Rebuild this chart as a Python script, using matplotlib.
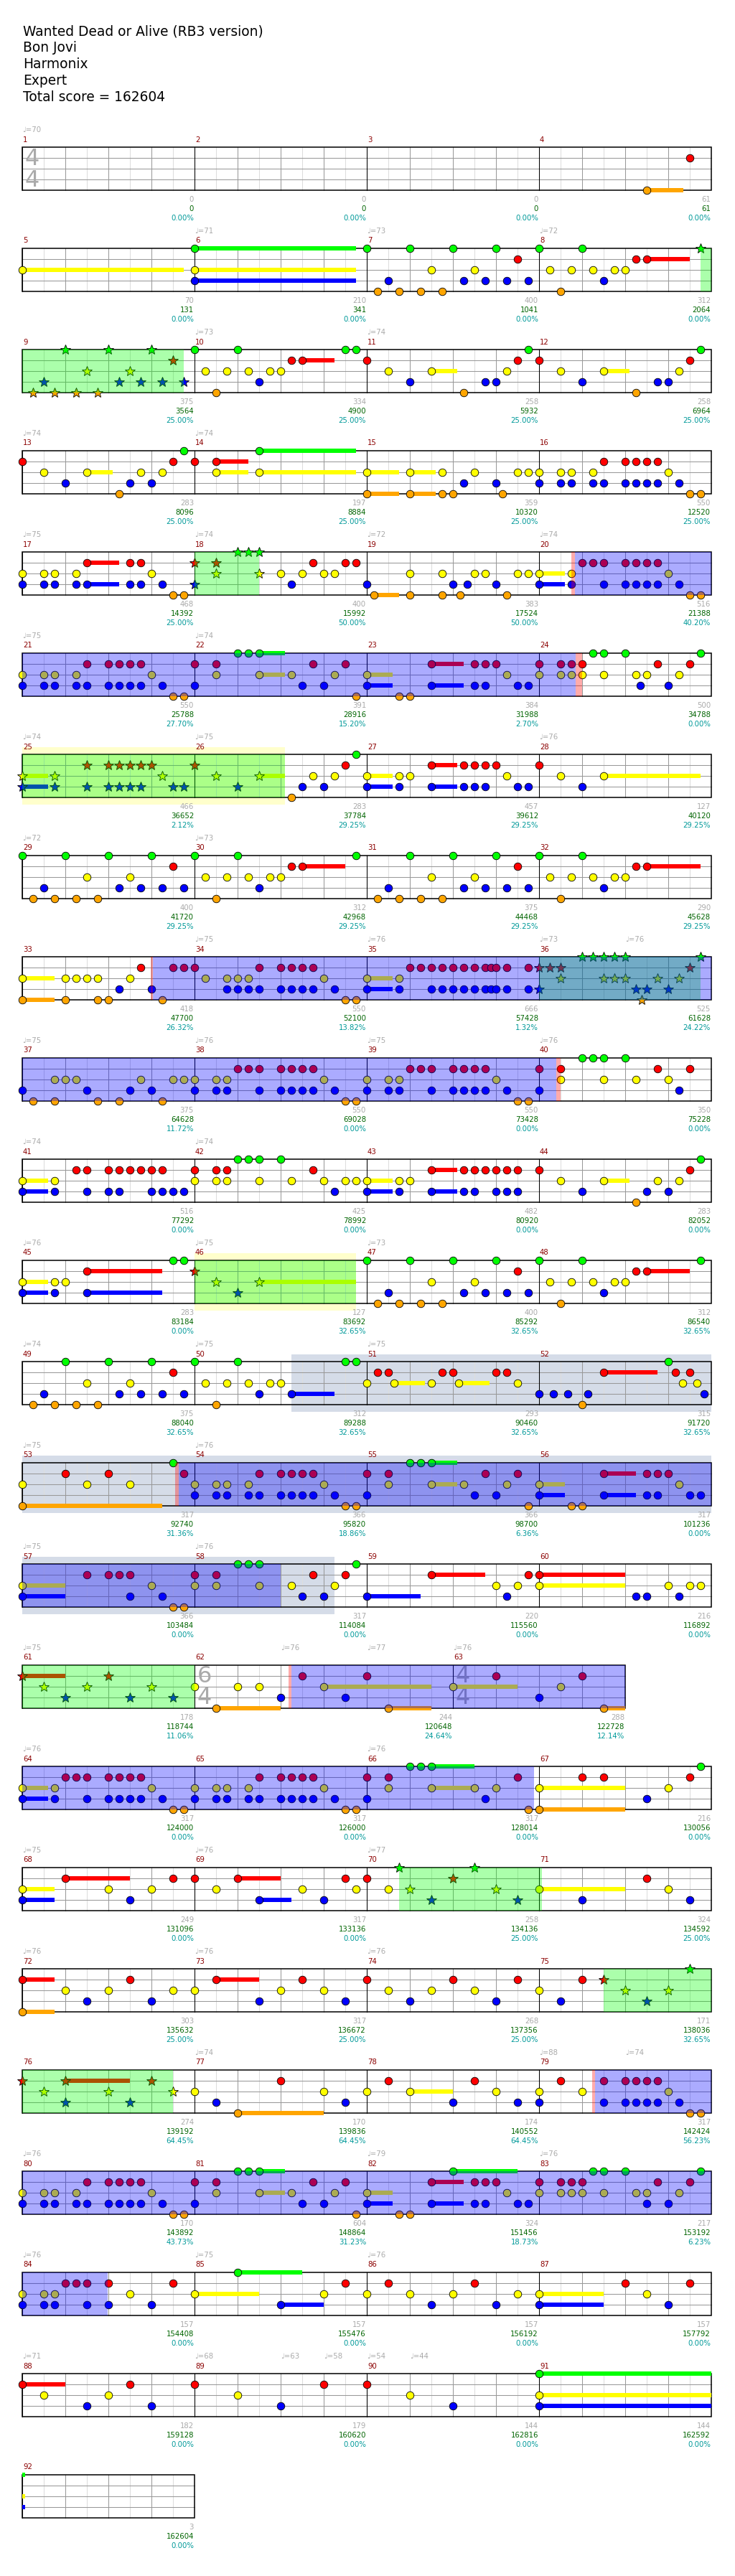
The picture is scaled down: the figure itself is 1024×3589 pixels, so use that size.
import re
import matplotlib
matplotlib.use("Agg")
import matplotlib.pyplot as plt
from matplotlib.patches import Rectangle

# ---- song info ----
TITLE_LINES = ["Wanted Dead or Alive (RB3 version)", "Bon Jovi", "Harmonix", "Expert",
               "Total score = 162604"]

# beats per measure (everything 4/4 except measure 62)
BEATS = [4] * 92
BEATS[61] = 6
TIME_SIGS = [(1, "4", "4"), (62, "6", "4"), (63, "4", "4")]

ROWS = [list(range(4 * k + 1, 4 * k + 5)) for k in range(15)] + [[61, 62, 63]] + \
       [list(range(64 + 4 * k, 68 + 4 * k)) for k in range(7)] + [[92]]

# notes per measure: frets + position (16ths) [: sustain in 16ths] [* = overdrive star]
P7 = "g0 o1 b2 o3 g4 o5 y6 o7 g8 b9 y10 b11 g12 b13 r14 b15"
P31 = "o1 b2 o3 g4 o5 y6 o7 g8 b9 y10 b11 g12 b13 r14 b15"
P8 = "g0 y1 o2 y3 g4 y5 b6 y7 y8 r9 r10:4 g15"
CH1 = "yb0 yb2 yb3 yb5 rb6 rb8 rb9 rb10 rb11 y12 b13 o14 o15"
CH2 = "rb0 ry2 g4 g5 gy6:2.4 y9 b10 r11 b12 y13 r14 o15"
CH3 = "yb0:2.4 o3 o4 rb6:3 rb10 rb11 r12 y13 b14 b15"
NOTES = [
    "", "", "", "o10:3.4 r14",
    "y0:15", "gyb0:15", P7, "g0 y1 o2 y3 g4 y5 b6 y7 y8 r9 r10:4 g15*",
    "o1* b2* o3* g4* o5* y6* o7* g8* b9* y10* b11* g12* b13* r14* b15*",
    "g0 y1 o2 y3 g4 y5 b6 y7 y8 r9 r10:3 g14 g15",
    "r0 y2 b4 y6:2.4 o9 b11 b12 y13 r14 g15",
    "r0 y2 b4 y6:2.4 o9 b11 b12 y13 r14 g15",
    "r0 y2 b4 y6:2.4 o9 b10 y11 b12 y13 r14 g15",
    "r0 ry2:3 gy6:9",
    "yo0:3 yo4:2.4 yo7 o8 b9 y10 b12 o12.6 y14 y15",
    "yb0 yb2 yb3 yb5 rb6 rb8 rb9 rb10 rb11 y12 b13 o14 o15",
    "yb0 yb2 yb3 yb5 rb6:3 rb10 rb11 y12 b13 o14 o15",
    "rb0* ry2* g4* g5* gy6* y8 b9 y10 r11 y12 y13 r14 r15",
    "b0 o0.67:2.33 yo4 yo7 b8 o8.67 b9.33 y10 y11 b12 o13 y14 y15",
    "yb0:2.4 yb3 r4 r5 rb6 rb8 rb9 rb10 rb11 y12 b13 o14 o15",
    CH1, CH2, CH3,
    "ry0 ry2 ry3 ry4 g5 gy6 g8 y9 b9.4 y10 r11 b12 y13 r14 g15",
    "yb0:2.4* yb3* rb6* rb8* rb9* rb10* rb11* r12* y13* b14* b15*",
    "r0* y2* b4* y6:2.4* o9 b10 y11 b12 y13 r14 g15",
    "yb0:2.4 yb3 y4 rb6:2.4 rb9 rb10 rb11 r12 y13 b14 b15",
    "r0 y2 b4 y6:9",
    P7, P8, P31, "g0 y1 o2 y3 g4 y5 b6 y7 y8 r9 r10:5",
    "yo0:3 yo4 y5 y6 yo7 o8 b9 y10 r11 b12 o13 r14 r15",
    "r0 y1 yb3 yb4 yb5 rb6 rb8 rb9 rb10 rb11 y12 b13 o14 o15",
    "yb0:2.4 yb3 r4 r5 rb6 rb7 rb8 rb9 rb10 rb11 rb11.5 rb12 rb13 rb15",
    "rb0* r1* ry2* g4* g5* gy6* gy7* gy8* b9* o9.5* b10* y11* b12* y13* r14* g15*",
    "b0 o1 yo3 y4 y5 b6 o7 o9 b10 y11 b12 o13 y14 y15",
    "yb0 yb2 yb3 r4 r5 rb6 rb8 rb9 rb10 rb11 y12 b13 o14 o15",
    "yb0 yb2 yb3 r4 r5 rb6 rb8 rb9 rb10 rb11 y12 b13 o14 o15",
    "rb0 ry2 g4 g5 gy6 g8 y9 r11 y12 b13 r14",
    "yb0:2.4 yb3 r5 rb6 rb8 rb9 r10 r11 rb12 rb13 b14 b15",
    "ry0 ry2 ry3 g4 g5 gy6 g8 y9 r11 y12 b13 y14 y15",
    "yb0:2.4 yb3 y4 rb6:2.4 rb9 rb10 r11 rb12 rb13 rb14",
    "r0 y2 b4 y6:2.4 o9 b10 y11 b12 y13 r14 g15",
    "yb0:2.4 yb3 y4 rb6:7 g14 g15",
    "r0* y2* b4* y6:9*",
    P7, P8, P31,
    "g0 y1 o2 y3 g4 y5 b6 y7 y8 b9:4 g14 g15",
    "y0 r1 r2 y2.5:2.9 y6 r7 r8 y8.5:2.9 r12 r13 y14",
    "b0 b1.33 b2.67 o4 b4.5 r6:5 g12 r12.67 y13.33 r14 y14.67 b15.33",
    # 53-60 (solo end / chorus)
    "y0 o0:13 r4 y6 r8 y10 g14 r15",
    CH1, CH2, CH3,
    "yb0:4 r6 r8 r9 rb10 y12 b13 o14 o15",
    "ry0 ry2 g4 g5 gy6 y9 b10 r11 b12 y13 r14 g15",
    "b0:5 r6:5 y12 b13 y14 r15",
    "ry0:8 b9 b10 y12 b13 y14 y15",
    # 61-63
    "r0:4* y2* b4* y6* r8* b10* y12* b14*",
    "y0 o2:6 y4 y6 b8 r10 y12:10 b14 r16 o18:4",
    "y0:6 r4 b8 y10 r12 o14:2",
    # 64-67
    "yb0:2.4 yb3 r4 r5 rb6 rb8 rb9 rb10 rb11 y12 b13 o14 o15",
    CH1, "rb0 ry2 g4 g5 gy6:4 y10 b11 y12 r14 o15",
    "yo0:8 r4 r6 b10 y12 r14 g15",
    # 68-71
    "y0:3 b0:3 r4:6 y8 b10 y12 r14",
    "r0 y2 r4:4 b6:3 y10 b12 r14 y15",
    "r0 y2 g3* y4* b6* r8* g10* y12* b14*",
    "y0:8 b4 r10 y12 b14",
    # 72-75
    "r0:3 o0:3 y4 b6 y8 r10 b12 y14",
    "y0 r2:4 b6 y8 r10 y12 b14",
    "r0 y2 b4 y6 r8 y10 b12 r14",
    "y0 b2 r4 r6* y8* b10* y12* g14*",
    # 76-79
    "r0* y2* b4* r4:6* y8* b10* r12* y14*",
    "y0 b2 o4:8 r8 y12 b14",
    "y0 r2 y4:4 b8 r10 y12 b14",
    "yb0 r2 y4 rb6 rb8 rb9 rb10 rb11 y12 b13 o14 o15",
    # 80-83 (chorus in overdrive)
    CH1, CH2, "yb0:2.4 o3 o4 rb6:3 g8:6 rb10 rb11 r12 y13 b14 b15",
    "ry0 ry2 ry3 ry4 g5 gy6 g8 y9 b10 y10 r11 b12 y13 r14 g15",
    # 84-87
    "yb0 yb2 yb3 r4 r5 rb6 rb8 y10 b12 r14",
    "y0:6 g4:6 b8:4 y12 r14",
    "y0 r2 y4 b6 y8 r10 b12 y14",
    "y0:6 b0:6 r8 y10 b12 r14",
    # 88-91 (ritardando)
    "r0:4 y2 b6 y8 r10 b12",
    "r0 y4 b8 r12",
    "r0 y4 b8",
    "gyb0:16.3",
    "",
]

MEAS_SCORE = [0, 0, 0, 61, 70, 210, 400, 312, 375, 334, 258, 258, 283, 197, 359, 550,
              468, 400, 383, 516, 550, 391, 384, 500, 466, 283, 457, 127, 400, 312, 375, 290,
              418, 550, 666, 525, 375, 550, 550, 350, 516, 425, 482, 283, 283, 127, 400, 312,
              375, 312, 293, 315, 317, 366, 366, 317, 366, 317, 220, 216, 178, 244, 288,
              317, 317, 317, 216, 249, 317, 258, 324, 303, 317, 268, 171, 274, 170, 174, 317,
              170, 604, 324, 217, 157, 157, 157, 157, 182, 179, 144, 144, 3]
TOTAL_SCORE = [0, 0, 0, 61, 131, 341, 1041, 2064, 3564, 4900, 5932, 6964, 8096, 8884, 10320,
               12520, 14392, 15992, 17524, 21388, 25788, 28916, 31988, 34788, 36652, 37784,
               39612, 40120, 41720, 42968, 44468, 45628, 47700, 52100, 57428, 61628, 64628,
               69028, 73428, 75228, 77292, 78992, 80920, 82052, 83184, 83692, 85292, 86540,
               88040, 89288, 90460, 91720, 92740, 95820, 98700, 101236, 103484, 114084,
               115560, 116892, 118744, 120648, 122728, 124000, 126000, 128014, 130056,
               131096, 133136, 134136, 134592, 135632, 136672, 137356, 138036, 139192,
               139836, 140552, 142424, 143892, 148864, 151456, 153192, 154408, 155476,
               156192, 157792, 159128, 160620, 162816, 162592, 162604]
PERCENT = ["0.00"] * 8 + ["25.00"] * 9 + ["50.00", "50.00", "40.20", "27.70", "15.20", "2.70",
           "0.00", "2.12"] + ["29.25"] * 7 + ["26.32", "13.82", "1.32", "24.22", "11.72"] + \
          ["0.00"] * 8 + ["32.65"] * 7 + ["31.36", "18.86", "6.36", "0.00", "0.00", "0.00",
           "0.00", "0.00", "11.06", "24.64", "12.14", "0.00", "0.00", "0.00", "0.00", "0.00",
           "0.00", "25.00", "25.00", "25.00", "25.00", "25.00", "32.65", "64.45", "64.45",
           "64.45", "56.23", "43.73", "31.23", "18.73", "6.23", "0.00", "0.00", "0.00", "0.00",
           "0.00", "0.00", "0.00", "0.00", "0.00"]

# tempo changes: (measure, position in 16ths, bpm)
TEMPOS = [(1, 0, 70), (6, 0, 71), (7, 0, 73), (8, 0, 72), (10, 0, 73), (11, 0, 74),
          (13, 0, 74), (14, 0, 74), (17, 0, 75), (18, 0, 74), (19, 0, 72), (20, 0, 74),
          (21, 0, 75), (22, 0, 74), (25, 0, 74), (26, 0, 75), (28, 0, 76), (29, 0, 72),
          (30, 0, 73), (34, 0, 75), (35, 0, 76), (36, 0, 73), (36, 8, 76), (37, 0, 75),
          (38, 0, 76), (39, 0, 75), (40, 0, 76), (41, 0, 74), (42, 0, 74), (45, 0, 76),
          (46, 0, 75), (47, 0, 73), (49, 0, 74), (50, 0, 75), (51, 0, 75),
          (53, 0, 75), (54, 0, 76), (57, 0, 75), (58, 0, 76), (61, 0, 75), (62, 8, 76),
          (62, 16, 77), (63, 0, 76), (64, 0, 76), (66, 0, 76), (68, 0, 75), (69, 0, 76),
          (70, 0, 77), (72, 0, 76), (73, 0, 76), (74, 0, 76), (77, 0, 74), (79, 0, 88),
          (79, 8, 74), (80, 0, 76), (82, 0, 79), (83, 0, 76), (84, 0, 76), (85, 0, 75),
          (86, 0, 76), (88, 0, 71), (89, 0, 68), (89, 8, 63), (89, 12, 58), (90, 0, 54),
          (90, 4, 44)]

# shaded spans: (measure, pos) -> (measure, pos)
OD_PHRASES = [((8, 15), (9, 15)), ((18, 0), (18, 6)), ((25, 0), (26, 8.4)), ((36, 0), (36, 15)),
              ((46, 0), (46, 15)), ((61, 0), (61, 16)), ((70, 3), (71, 0.3)),
              ((75, 6), (76, 14))]
ACTIVATIONS = [((20, 3.3), (24, 3.4)), ((33, 12.1), (40, 1.6)), ((53, 14.5), (58, 8)),
               ((62, 9), (66, 15.5)), ((79, 5.2), (84, 7.9))]
ACT_MARKS = [((20, 3.0), (20, 3.3)), ((24, 3.4), (24, 4.0)), ((33, 11.95), (33, 12.1)),
             ((40, 1.6), (40, 2.0)), ((53, 14.2), (53, 14.5)), ((62, 8.7), (62, 9)),
             ((79, 4.9), (79, 5.2))]
UNISON = [((25, 0), (26, 8.4)), ((46, 0), (46, 15))]
SOLOS = [((50, 9), (58, 13))]

LANE = {"g": 0, "r": 1, "y": 2, "b": 3, "o": 4}
COLOR = {"g": "#00ff00", "r": "#ff0000", "y": "#ffff00", "b": "#0000ff", "o": "#ffa500"}

# ---- layout ----
X0, TOP0, ROW_H, PX16 = 31, 205, 141, 15
start16 = {}
g = 0
for m in range(1, 93):
    start16[m] = g
    g += BEATS[m - 1] * 4
row_of = {}
for k, row in enumerate(ROWS):
    for m in row:
        row_of[m] = k


def gpos(m, p):
    return start16[m] + p


def xof(k, gg):
    return X0 + (gg - start16[ROWS[k][0]]) * PX16


def spans(a, b):
    # split global span [a, b] into pieces per row
    out = []
    for k, row in enumerate(ROWS):
        r0 = start16[row[0]]
        r1 = start16[row[-1]] + BEATS[row[-1] - 1] * 4
        lo, hi = max(a, r0), min(b, r1)
        if hi > lo:
            out.append((k, xof(k, lo), xof(k, hi)))
    return out


def find_row(gg):
    for k, row in enumerate(ROWS):
        r1 = start16[row[-1]] + BEATS[row[-1] - 1] * 4
        if gg < r1:
            return k
    return len(ROWS) - 1


fig = plt.figure(figsize=(10.24, 35.89), dpi=100)
ax = fig.add_axes([0, 0, 1, 1])
ax.set_xlim(0, 1024)
ax.set_ylim(3589, 0)
ax.axis("off")

for i, line in enumerate(TITLE_LINES):
    ax.text(32, 49 + 23 * i, line, fontsize=13.4, color="black", va="baseline", ha="left")

# background bands (unison = pale yellow, solo = grey-blue)
for bands, col in ((UNISON, "#ffffcc"), (SOLOS, "#d5dce8")):
    for (ma, pa), (mb, pb) in bands:
        for k, xa, xb in spans(gpos(ma, pa), gpos(mb, pb)):
            top = TOP0 + ROW_H * k
            ax.add_patch(Rectangle((xa, top - 10), xb - xa, 80, color=col, lw=0, zorder=0))

# staff grids
for k, row in enumerate(ROWS):
    top = TOP0 + ROW_H * k
    n8 = sum(BEATS[m - 1] for m in row) * 2
    x_end = X0 + n8 * 30
    for h in range(1, n8):
        ax.plot([X0 + 30 * h] * 2, [top, top + 60], color="#999999" if h % 2 == 0 else "#dddddd",
                lw=0.75, zorder=1)
    for j in (1, 2, 3):
        ax.plot([X0, x_end], [top + 15 * j] * 2, color="#999999", lw=0.75, zorder=1)
    for m in row:
        xs = xof(k, start16[m])
        xe = xs + BEATS[m - 1] * 60
        ax.plot([xs, xs], [top, top + 60], color="black", lw=0.75, zorder=2)
        ax.text(xs + 1, top - 10.5, str(m), color="#8b0000", fontsize=7.3, va="center", ha="left")
        ax.text(xe - 1, top + 73, str(MEAS_SCORE[m - 1]), color="#aaaaaa", fontsize=7.3,
                va="center", ha="right")
        ax.text(xe - 1, top + 86, str(TOTAL_SCORE[m - 1]), color="#006400", fontsize=7.3,
                va="center", ha="right")
        ax.text(xe - 1, top + 99, PERCENT[m - 1] + "%", color="#009999", fontsize=7.3,
                va="center", ha="right")
    ax.add_patch(Rectangle((X0, top), x_end - X0, 60, fill=False, ec="black", lw=1.1, zorder=2))

for m, num, den in TIME_SIGS:
    k = row_of[m]
    top = TOP0 + ROW_H * k
    xs = xof(k, start16[m])
    ax.text(xs + 13.5, top + 16, num, fontsize=23, color="#aaaaaa", ha="center", va="center",
            zorder=2)
    ax.text(xs + 13.5, top + 46, den, fontsize=23, color="#aaaaaa", ha="center", va="center",
            zorder=2)

for m, p, bpm in TEMPOS:
    gg = gpos(m, p)
    k = find_row(gg)
    top = TOP0 + ROW_H * k
    ax.text(xof(k, gg), top - 24, "\u2669=%d" % bpm, color="#aaaaaa", fontsize=7.3,
            va="center", ha="left")

# notes and sustains
tok = re.compile(r"([gryob]+)([\d.]+)(?::([\d.]+))?(\*?)")
for m in range(1, 93):
    for frets, p, sus, star in tok.findall(NOTES[m - 1]):
        gg = gpos(m, float(p))
        k = find_row(gg)
        top = TOP0 + ROW_H * k
        for f in frets:
            y = top + 15 * LANE[f]
            if sus:
                for kk, xa, xb in spans(gg, gg + float(sus)):
                    yy = TOP0 + ROW_H * kk + 15 * LANE[f]
                    ax.add_patch(Rectangle((xa, yy - 3), xb - xa, 6, color=COLOR[f], lw=0,
                                           zorder=3))
            if star:
                ax.plot(xof(k, gg), y, marker="*", ms=10.5, mfc=COLOR[f], mec="black", mew=0.6,
                        zorder=4)
            else:
                ax.plot(xof(k, gg), y, marker="o", ms=7.6, mfc=COLOR[f], mec="black", mew=0.6,
                        zorder=4)

# overdrive phrase / activation overlays
for items, col in ((OD_PHRASES, "#00ff00"), (ACTIVATIONS, "#0000ff"), (ACT_MARKS, "#ff0000")):
    for (ma, pa), (mb, pb) in items:
        for k, xa, xb in spans(gpos(ma, pa), gpos(mb, pb)):
            top = TOP0 + ROW_H * k
            ax.add_patch(Rectangle((xa, top), xb - xa, 60, color=col, alpha=0.33, lw=0,
                                   zorder=5))

fig.savefig("out.png", dpi=100)
